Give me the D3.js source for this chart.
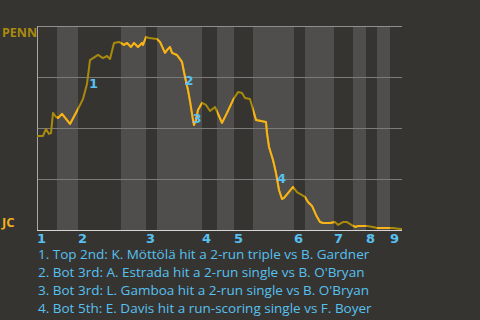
<!DOCTYPE html>
<html>
<head>
<meta charset="utf-8">
<script src="https://cdn.jsdelivr.net/npm/d3@7"></script>
<style>
body{margin:0;background:#363431;}
svg{display:block;}
</style>
</head>
<body>
<div id="chart"></div>
<script>
var w=480, h=320;
var pad={top:26, bottom:90, left:37, right:78};

//Innings and the length of each half inning (in pitches)
var innings=["1","2","3","4","5","6","7","8","9"];
var halfInningPitches=[20,21,43,25,11,45,15,17,19,41,11,29,19,13,11,13,12];

//Penn win probability (%) by pitch
var wpPitch=[0,6,9,12,14,16,19,21,25,33,41,46,50,53,61,66,70,73,77,82,87,90,94,97,101,105,106,109,112,120,123,128,130,133,135,140,145,146,148,151,153,156,157,159,161,165,169,173,178,185,190,196,201,205,208,213,219,229,230,232,236,239,242,245,247,251,256,260,268,271,275,279,283,286,293,298,301,306,310,316,319,321,330,336,340,356,363,365];
var wpPenn=[46.1,46.1,49.5,47.1,47.5,57.4,55.4,54.9,56.9,52.0,59.3,64.2,71.6,83.3,85.8,84.3,85.3,83.8,91.7,92.2,90.7,91.7,89.7,91.7,89.7,91.7,90.7,94.6,94.1,93.6,92.2,86.8,88.2,89.7,86.8,85.8,82.4,79.9,75.0,68.6,63.2,53.9,51.5,53.9,58.8,62.3,61.3,58.3,60.3,52.5,57.4,63.7,67.6,67.2,64.7,64.2,53.9,52.9,47.5,40.7,34.3,27.9,19.6,15.2,15.7,18.1,21.1,18.6,16.2,13.7,11.8,7.4,3.9,3.4,3.4,3.9,2.5,3.9,3.9,2.0,1.5,2.0,2.0,1.5,1.0,1.0,0.5,0.5];

//Key events
var eventPitch=[52.5,148,156,240.5];
var eventWp=[72.1,73.5,54.9,25.5];
var eventText=["1. Top 2nd: K. Möttölä hit a 2-run triple vs B. Gardner",
               "2. Bot 3rd: A. Estrada hit a 2-run single vs B. O'Bryan",
               "3. Bot 3rd: L. Gamboa hit a 2-run single vs B. O'Bryan",
               "4. Bot 5th: E. Davis hit a run-scoring single vs F. Boyer"];

var teams=["PENN","JC"];

//Build half inning spans
var halves=[], start=0;
halfInningPitches.forEach(function(n,i){
    halves.push({start:start, end:start+n, bottom:i%2==1, inning:Math.floor(i/2)});
    start+=n;
});
var totalPitches=start;

var svg=d3.select("#chart").append("svg").attr("width",w).attr("height",h);

var xScale=d3.scaleLinear().domain([0,totalPitches]).range([pad.left,w-pad.right]);
var yScale=d3.scaleLinear().domain([0,100]).range([h-pad.bottom,pad.top]);

//Shaded bottom halves
svg.append("g").selectAll("rect")
   .data(halves.filter(function(d){return d.bottom;}))
   .enter().append("rect")
   .attr("x",function(d){return xScale(d.start);})
   .attr("width",function(d){return xScale(d.end)-xScale(d.start);})
   .attr("y",yScale(100))
   .attr("height",yScale(0)-yScale(100))
   .style("fill","#4f4e4c");

//Gridlines
svg.append("g").selectAll("line")
   .data([25,50,75,100])
   .enter().append("line")
   .attr("x1",xScale(0)).attr("x2",xScale(totalPitches))
   .attr("y1",function(d){return yScale(d)+0.5;})
   .attr("y2",function(d){return yScale(d)+0.5;})
   .style("stroke",function(d){return d==100?"#8f8e8c":"#7c7b79";})
   .style("stroke-width",1);
svg.append("line")
   .attr("x1",xScale(0)+0.5).attr("x2",xScale(0)+0.5)
   .attr("y1",yScale(100)).attr("y2",yScale(0))
   .style("stroke","#a9a8a6");
svg.append("line")
   .attr("x1",xScale(0)).attr("x2",xScale(totalPitches))
   .attr("y1",yScale(0)+0.5).attr("y2",yScale(0)+0.5)
   .style("stroke","#d6d5d3");

//Win probability line, coloured by half inning
var line=d3.line()
           .x(function(d,i){return xScale(wpPitch[i]);})
           .y(function(d){return yScale(d);});
var clip=svg.append("clipPath").attr("id","bottoms");
clip.selectAll("rect")
    .data(halves.filter(function(d){return d.bottom;}))
    .enter().append("rect")
    .attr("x",function(d){return xScale(d.start);})
    .attr("width",function(d){return xScale(d.end)-xScale(d.start);})
    .attr("y",0).attr("height",h);
svg.append("path").attr("d",line(wpPenn))
   .style("fill","none").style("stroke","#a88a0e").style("stroke-width",2)
   .style("stroke-linejoin","round");
svg.append("path").attr("d",line(wpPenn))
   .attr("clip-path","url(#bottoms)")
   .style("fill","none").style("stroke","#f7b319").style("stroke-width",2)
   .style("stroke-linejoin","round");

//Event markers
svg.append("g").selectAll("text")
   .data(eventPitch)
   .enter().append("text")
   .attr("x",function(d){return xScale(d)+4;})
   .attr("y",function(d,i){return yScale(eventWp[i])+5;})
   .attr("text-anchor","middle")
   .text(function(d,i){return i+1;})
   .style("font-family","'DejaVu Sans'")
   .style("font-weight","bold")
   .style("font-size","13px")
   .style("fill","#56c1f0");

//Inning labels
svg.append("g").selectAll("text")
   .data(innings)
   .enter().append("text")
   .attr("x",function(d,i){return xScale(halves[i*2].start);})
   .attr("y",243)
   .text(function(d){return d;})
   .style("font-family","'DejaVu Sans'")
   .style("font-weight","bold")
   .style("font-size","13px")
   .style("fill","#56c1f0");

//Team labels
svg.append("text").attr("x",2).attr("y",yScale(100)+11).text(teams[0])
   .style("font-family","'Open Sans'").style("font-weight","bold")
   .style("font-size","12.5px").style("fill","#a88a0e");
svg.append("text").attr("x",2).attr("y",yScale(0)-3).text(teams[1])
   .style("font-family","'Open Sans'").style("font-weight","bold")
   .style("font-size","13px").style("fill","#f0b020");

//Event descriptions
svg.append("g").selectAll("text")
   .data(eventText)
   .enter().append("text")
   .attr("x",38)
   .attr("y",function(d,i){return 259+i*18;})
   .text(function(d){return d;})
   .style("font-family","'Open Sans'")
   .style("font-size","13.5px")
   .style("fill","#56c1f0");
</script>
</body>
</html>
